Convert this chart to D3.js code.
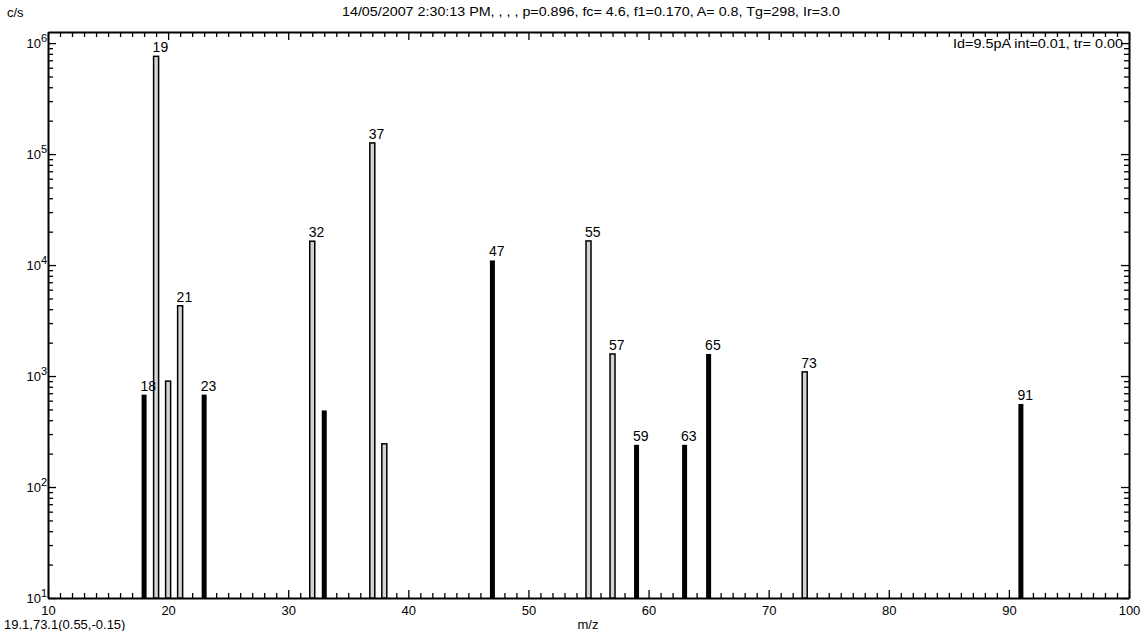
<!DOCTYPE html>
<html>
<head>
<meta charset="utf-8">
<script src="https://cdn.jsdelivr.net/npm/d3@7"></script>
<style>
  body { margin: 0; background: #fff; }
  svg { font-family: "Liberation Sans", Arial, sans-serif; }
  .axis path, .axis line { stroke: #000; }
  .axis path { stroke-width: 2; }
  .axis text { font-size: 13px; fill: #000; }
</style>
</head>
<body>
<svg id="chart" width="1144" height="631"></svg>
<script>
// m/z peaks
const masses = [18, 19, 20, 21, 23, 32, 33, 37, 38, 47, 55, 57, 59, 63, 65, 73, 91];
const counts = [680, 760000, 900, 4300, 680, 16400, 490, 126000, 245, 11000, 16500, 1580, 240, 240, 1580, 1090, 560];
// hollow (outlined) peaks vs solid ones
const hollow = [19, 20, 21, 32, 37, 38, 55, 57, 73];
const labelled = [18, 19, 21, 23, 32, 37, 47, 55, 57, 59, 63, 65, 73, 91];
const xTicks = [10, 20, 30, 40, 50, 60, 70, 80, 90, 100];
const yExponents = [1, 2, 3, 4, 5, 6];

const title = '14/05/2007 2:30:13 PM, , , , p=0.896, fc= 4.6, f1=0.170, A= 0.8, Tg=298, Ir=3.0';
const infoText = 'Id=9.5pA int=0.01, tr= 0.00';
const cursorText = '19.1,73.1(0.55,-0.15)';

const margin = { left: 48, right: 15, top: 32, bottom: 33 };
const width = 1144;
const height = 631;
const barW = 5;

const svg = d3.select('#chart');

const x = d3.scaleLinear()
  .domain([10, 100])
  .range([margin.left, width - margin.right]);

const y = d3.scaleLog()
  .domain([10, Math.pow(10, 6.1)])
  .range([height - margin.bottom, margin.top]);

const minorX = d3.range(10, 101, 1).filter((v) => v % 10 !== 0);
const minorY = [];
for (let e = 1; e <= 6; e += 1) {
  for (let k = 2; k <= 9; k += 1) {
    const v = k * Math.pow(10, e);
    if (v <= y.domain()[1]) minorY.push(v);
  }
}
const majorY = yExponents.map((e) => Math.pow(10, e));

const bottom = height - margin.bottom;
const right = width - margin.right;

/**
 * Draw one axis side: long major ticks and short minor ticks, pointing inward
 */
function side(axisFn, pos, scale, major, minor, withLabels) {
  svg.append('g')
    .attr('class', 'axis')
    .attr('transform', pos)
    .call(axisFn(scale).tickValues(major).tickSizeInner(-8).tickSizeOuter(0).tickPadding(8)
      .tickFormat(withLabels ? d3.format('d') : ''))
    .call((g) => g.selectAll('.tick line').attr('stroke-width', 1.3));
  svg.append('g')
    .attr('class', 'axis')
    .attr('transform', pos)
    .call(axisFn(scale).tickValues(minor).tickSizeInner(-5).tickSizeOuter(0).tickFormat(''))
    .call((g) => g.select('.domain').remove())
    .call((g) => g.selectAll('.tick line').attr('stroke-width', 1.3));
}

side(d3.axisBottom, `translate(0,${bottom})`, x, xTicks, minorX, true);
side(d3.axisTop, `translate(0,${margin.top})`, x, xTicks, minorX, false);
side(d3.axisLeft, `translate(${margin.left},0)`, y, majorY, minorY, false);
side(d3.axisRight, `translate(${right},0)`, y, majorY, minorY, false);

// y labels as 10 with superscript exponent
const yLab = svg.append('g')
  .selectAll('text')
  .data(yExponents)
  .join('text')
    .attr('x', margin.left - 1)
    .attr('y', (d) => y(Math.pow(10, d)) + 5)
    .attr('text-anchor', 'end')
    .attr('font-size', 13)
    .attr('fill', '#000');
yLab.append('tspan').text('10');
yLab.append('tspan')
  .attr('dy', -6)
  .attr('font-size', 11)
  .text((d) => d);

// peaks
const peaks = masses.map((m, i) => ({ m, c: counts[i], hollow: hollow.includes(m) }));

svg.append('g')
  .selectAll('rect')
  .data(peaks)
  .join('rect')
    .attr('x', (d) => x(d.m) - barW / 2)
    .attr('y', (d) => y(d.c))
    .attr('width', barW)
    .attr('height', (d) => bottom - y(d.c))
    .attr('fill', (d) => (d.hollow ? '#d4d4d4' : '#000'))
    .attr('stroke', '#000')
    .attr('stroke-width', (d) => (d.hollow ? 1.5 : 0));

svg.append('g')
  .selectAll('text')
  .data(peaks.filter((d) => labelled.includes(d.m)))
  .join('text')
    .attr('x', (d) => x(d.m) - barW / 2 - 1)
    .attr('y', (d) => y(d.c) - 4)
    .attr('font-size', 14)
    .attr('fill', '#000')
    .text((d) => d.m);

// texts
svg.append('text')
  .attr('x', 342)
  .attr('y', 16)
  .attr('font-size', 12)
  .attr('textLength', 498)
  .attr('lengthAdjust', 'spacingAndGlyphs')
  .text(title);

svg.append('text')
  .attr('x', 7)
  .attr('y', 17)
  .attr('font-size', 13)
  .text('c/s');

svg.append('text')
  .attr('x', 953)
  .attr('y', 48)
  .attr('font-size', 12)
  .attr('textLength', 170)
  .attr('lengthAdjust', 'spacingAndGlyphs')
  .text(infoText);

svg.append('text')
  .attr('x', 4)
  .attr('y', 629)
  .attr('font-size', 13)
  .text(cursorText);

svg.append('text')
  .attr('x', 588)
  .attr('y', 629)
  .attr('text-anchor', 'middle')
  .attr('font-size', 13)
  .text('m/z');
</script>
</body>
</html>
